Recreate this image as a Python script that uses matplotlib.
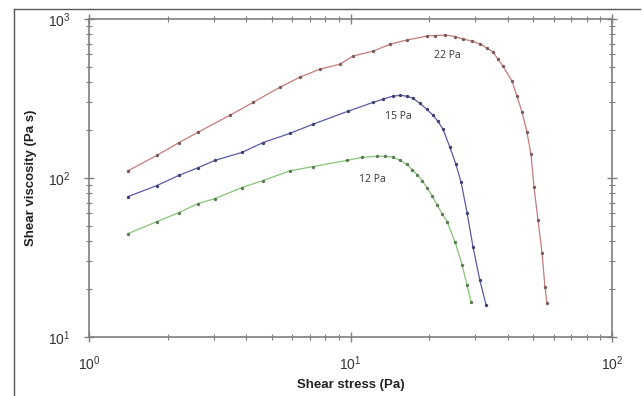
import matplotlib
matplotlib.use("Agg")
import matplotlib.pyplot as plt
from matplotlib.lines import Line2D
from matplotlib.ticker import LogLocator, NullFormatter

plt.rcParams['font.family'] = ['Liberation Sans', 'DejaVu Sans']
plt.rcParams['mathtext.fontset'] = 'custom'
plt.rcParams['mathtext.rm'] = 'Liberation Sans'
plt.rcParams['mathtext.it'] = 'Liberation Sans'

# Shear stress (Pa) and viscosity (Pa s) for each yield-stress sample
stress_22 = [1.41, 1.82, 2.21, 2.61, 3.46, 4.24, 5.37, 6.41, 7.64, 9.12, 10.2, 12.2,
             14.2, 16.4, 19.6, 21.0, 23.0, 25.1, 26.9, 29.2, 31.3, 33.3, 35.1, 36.6,
             38.3, 41.5, 43.3, 45.3, 47.3, 49.0, 50.3, 52.1, 54.0, 55.4, 56.4]
visc_22 = [111, 139, 167, 194, 248, 299, 372, 431, 484, 520, 584, 628,
           695, 737, 781, 787, 793, 776, 748, 726, 695, 656, 619, 560,
           505, 406, 327, 259, 194, 141, 88.4, 54.7, 33.9, 20.7, 16.4]

stress_15 = [1.41, 1.82, 2.21, 2.61, 3.03, 3.85, 4.63, 5.87, 7.19, 9.78, 12.2, 13.3,
             14.5, 15.5, 16.4, 17.3, 18.4, 19.6, 20.7, 21.6, 22.6, 24.0, 25.3, 26.5,
             27.9, 29.4, 31.2, 33.0]
visc_15 = [76.4, 89.7, 104, 116, 129, 145, 167, 191, 218, 263, 299, 313,
           327, 331, 327, 318, 295, 270, 248, 227, 202, 156, 122, 93.7,
           60.6, 37.0, 22.9, 15.9]

stress_12 = [1.41, 1.82, 2.21, 2.61, 3.03, 3.85, 4.63, 5.87, 7.19, 9.68, 11.1, 12.6,
             13.6, 14.6, 15.5, 16.4, 17.2, 18.0, 18.8, 19.6, 20.5, 21.4, 22.4, 23.4,
             25.1, 26.7, 27.9, 28.9]
visc_12 = [44.7, 53.2, 60.6, 69.0, 74.2, 87.1, 96.4, 111, 118, 129, 135, 137,
           137, 135, 129, 122, 113, 105, 96.4, 87.1, 77.6, 68.0, 59.7, 53.2,
           39.7, 28.5, 21.3, 16.6]

labels = ["22 Pa", "15 Pa", "12 Pa"]
label_pos = [(23.4, 593), (15.2, 244), (12.1, 98)]

fig = plt.figure(figsize=(6.44, 3.96), dpi=100)
fig.patch.set_facecolor('white')
ax = fig.add_axes([89/644, 1 - 337/396, (612 - 89)/644, (337 - 19)/396])

series = [
    (stress_22, visc_22, '#c77a7a', '#7a5a5a'),
    (stress_15, visc_15, '#5a5aa8', '#404070'),
    (stress_12, visc_12, '#86c476', '#5a7a55'),
]
for x, y, lc, mc in series:
    ax.plot(x, y, '-', color=lc, lw=0.9, marker='o', ms=1.4,
            mfc=mc, mec=mc, zorder=3)

for txt, (tx, ty) in zip(labels, label_pos):
    ax.text(tx, ty, txt, fontsize=7.5, color='#333333', family=['Open Sans', 'DejaVu Sans'],
            ha='center', va='center')

ax.set_xscale('log')
ax.set_yscale('log')
ax.set_xlim(1, 100)
ax.set_ylim(10, 1000)

ax.xaxis.set_major_locator(LogLocator(base=10, numticks=5))
ax.yaxis.set_major_locator(LogLocator(base=10, numticks=5))
ax.xaxis.set_minor_locator(LogLocator(base=10, subs=range(2, 10), numticks=20))
ax.yaxis.set_minor_locator(LogLocator(base=10, subs=range(2, 10), numticks=20))
ax.xaxis.set_minor_formatter(NullFormatter())
ax.yaxis.set_minor_formatter(NullFormatter())

for s in ax.spines.values():
    s.set_color('#7f7f7f')
    s.set_linewidth(1.2)

ax.tick_params(which='both', direction='inout', colors='#7f7f7f',
               labelcolor='#333333', top=True, right=True)
ax.tick_params(which='major', length=7, width=1.0, labelsize=10)
ax.tick_params(which='minor', length=4, width=0.8)
ax.tick_params(axis='x', which='major', pad=9)
ax.tick_params(axis='y', which='major', pad=10)

ax.set_xlabel('Shear stress (Pa)', fontsize=9.5, fontweight='bold', color='#222222', labelpad=4)
ax.set_ylabel('Shear viscosity (Pa s)', fontsize=9.5, fontweight='bold', color='#222222', labelpad=8)

# outer frame (left and top edges visible)
fig.add_artist(Line2D([14/644, 14/644], [0, 1 - 9/396], transform=fig.transFigure,
                      color='#555555', lw=1.0))
fig.add_artist(Line2D([14/644, 640/644], [1 - 9/396, 1 - 9/396], transform=fig.transFigure,
                      color='#555555', lw=1.0))

fig.savefig('out.png', dpi=100, facecolor='white')
